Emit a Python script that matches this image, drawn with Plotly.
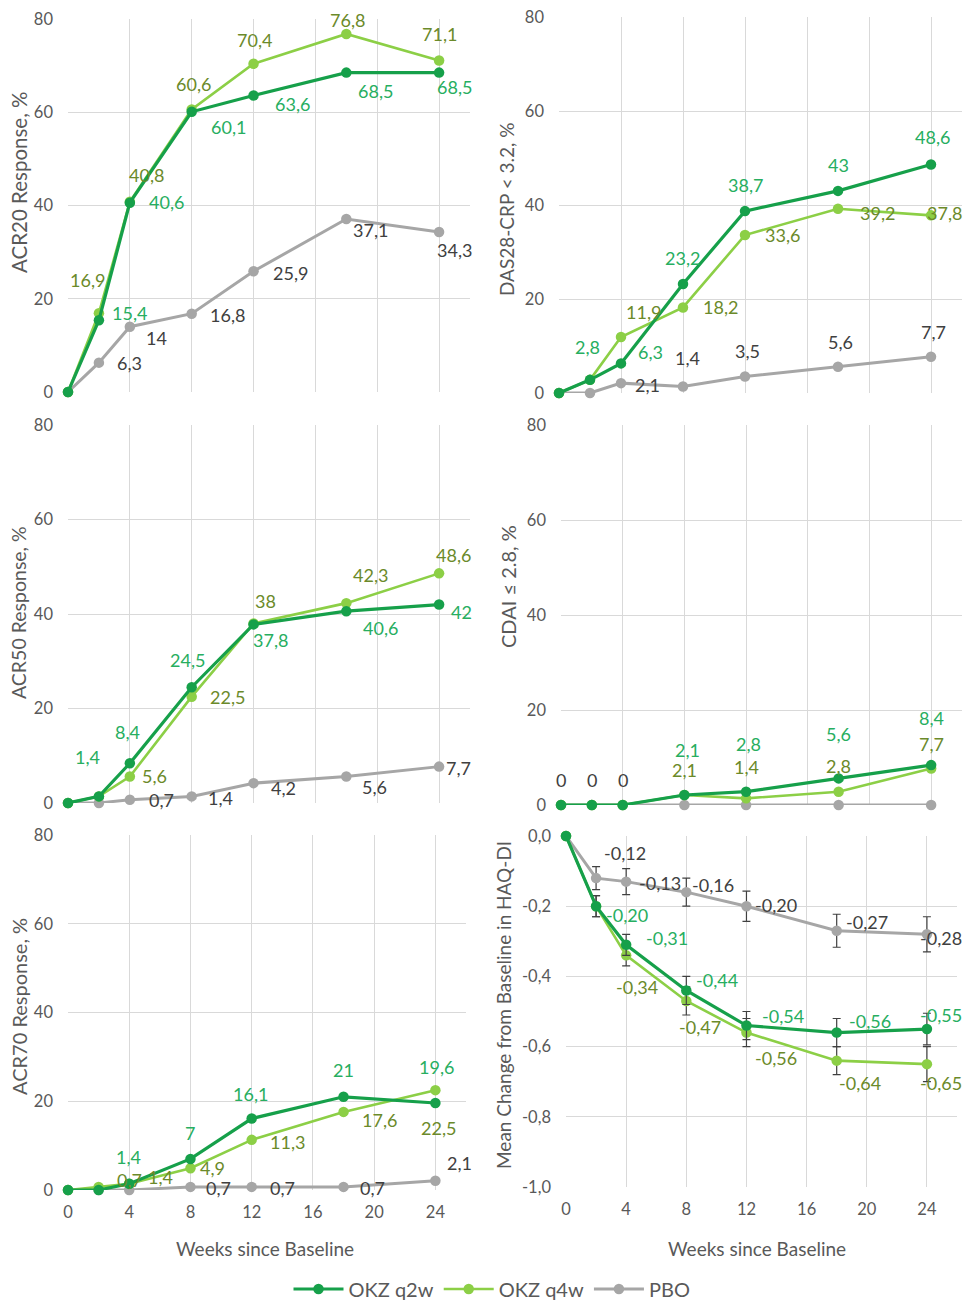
import plotly.graph_objects as go

# ---------------- DATA ----------------
weeks = [0, 2, 4, 8, 12, 18, 24]
series_names = ["OKZ q2w", "OKZ q4w", "PBO"]

acr20_q2w = [0, 15.4, 40.6, 60.1, 63.6, 68.5, 68.5]
acr20_q4w = [0, 16.9, 40.8, 60.6, 70.4, 76.8, 71.1]
acr20_pbo = [0, 6.3, 14, 16.8, 25.9, 37.1, 34.3]

das28_q2w = [0, 2.8, 6.3, 23.2, 38.7, 43, 48.6]
das28_q4w = [0, 2.8, 11.9, 18.2, 33.6, 39.2, 37.8]
das28_pbo = [0, 0, 2.1, 1.4, 3.5, 5.6, 7.7]

acr50_q2w = [0, 1.4, 8.4, 24.5, 37.8, 40.6, 42]
acr50_q4w = [0, 1.4, 5.6, 22.5, 38, 42.3, 48.6]
acr50_pbo = [0, 0, 0.7, 1.4, 4.2, 5.6, 7.7]

cdai_q2w = [0, 0, 0, 2.1, 2.8, 5.6, 8.4]
cdai_q4w = [0, 0, 0, 2.1, 1.4, 2.8, 7.7]
cdai_pbo = [0, 0, 0, 0, 0, 0, 0]

acr70_q2w = [0, 0, 1.4, 7, 16.1, 21, 19.6]
acr70_q4w = [0, 0.7, 1.4, 4.9, 11.3, 17.6, 22.5]
acr70_pbo = [0, 0, 0, 0.7, 0.7, 0.7, 2.1]

haq_q2w = [0, -0.20, -0.31, -0.44, -0.54, -0.56, -0.55]
haq_q4w = [0, -0.20, -0.34, -0.47, -0.56, -0.64, -0.65]
haq_pbo = [0, -0.12, -0.13, -0.16, -0.20, -0.27, -0.28]
haq_q2w_err = [0, 0.03, 0.03, 0.04, 0.04, 0.04, 0.045]
haq_q4w_err = [0, 0.03, 0.03, 0.04, 0.04, 0.04, 0.05]
haq_pbo_err = [0, 0.033, 0.037, 0.04, 0.043, 0.047, 0.05]

pct_ticks = [0, 20, 40, 60, 80]
haq_ticks = [-1.0, -0.8, -0.6, -0.4, -0.2, 0.0]
haq_ticktext = ["-1,0", "-0,8", "-0,6", "-0,4", "-0,2", "0,0"]
week_ticks = [0, 4, 8, 12, 16, 20, 24]

# ---------------- STYLE ----------------
FONT = "Lato"
line_colors = ["#16A04A", "#8CCF46", "#A6A6A6"]
label_colors = ["#27AE60", "#6B8A2A", "#404040"]
line_widths = [3.2, 2.6, 3]
GRID = "#D9D9D9"
TICKC = "#595959"
W, H = 964, 1301
TICK_SIZE = 16.5
LABEL_SIZE = 18
TITLE_SIZE = 19
LEGEND_SIZE = 20


def px_x(a, b):
    return [a / W, b / W]


def px_y(top, bottom):
    return [1 - bottom / H, 1 - top / H]


# label offsets in pixels (dx right, dy down); None = no label
panels = [
    dict(key="1", xd=(68, 470), yd=(19, 392), bottom=False, haq=False,
         title="ACR20 Response, %", tx=19, ty=182, tsize=20.5,
         data=[acr20_q2w, acr20_q4w, acr20_pbo],
         off=[[None, (31, -7), (37, -1), (37, 15), (39, 9), (29, 18), (15, 14)],
              [None, (-11, -33), (17, -27), (2, -25), (1, -24), (1, -14), (0, -26)],
              [None, (31, 0), (27, 11), (36, 1), (37, 2), (24, 11), (15, 18)]]),
    dict(key="2", xd=(559, 962), yd=(17, 393), bottom=False, haq=False,
         title="DAS28-CRP < 3.2, %", tx=507, ty=209, tsize=19,
         data=[das28_q2w, das28_q4w, das28_pbo],
         off=[[None, (-3, -33), (29, -11), (-1, -26), (0, -26), (0, -26), (1, -28)],
              [None, None, (22, -25), (37, 0), (37, 0), (39, 4), (13, -2)],
              [None, None, (26, 2), (4, -28), (2, -26), (2, -25), (2, -25)]]),
    dict(key="3", xd=(68, 470), yd=(425, 803), bottom=False, haq=False,
         title="ACR50 Response, %", tx=19, ty=613, tsize=19.5,
         data=[acr50_q2w, acr50_q4w, acr50_pbo],
         off=[[None, (-11, -39), (-2, -31), (-4, -27), (17, 16), (34, 17), (22, 7)],
              [None, None, (25, -1), (36, 0), (12, -22), (24, -28), (14, -18)],
              [None, None, (32, 0), (29, 2), (30, 5), (28, 10), (19, 1)]]),
    dict(key="4", xd=(561, 962), yd=(425, 805), bottom=False, haq=False,
         title="CDAI ≤ 2.8, %", tx=508, ty=587, tsize=20,
         data=[cdai_q2w, cdai_q4w, cdai_pbo],
         off=[[None, None, None, (3, -45), (2, -48), (0, -44), (0, -47)],
              [None, None, None, (0, -25), (0, -31), (0, -26), (0, -24)],
              [(0, -25), (0, -25), (0, -25), None, None, None, None]]),
    dict(key="5", xd=(68, 466), yd=(835, 1190), bottom=True, haq=False,
         title="ACR70 Response, %", tx=19, ty=1007, tsize=20,
         data=[acr70_q2w, acr70_q4w, acr70_pbo],
         off=[[None, None, (-1, -27), (0, -26), (-1, -25), (0, -27), (1, -36)],
              [None, (31, -7), (31, -7), (22, 0), (36, 2), (36, 8), (3, 38)],
              [None, None, None, (28, 1), (31, 1), (29, 1), (24, -18)]]),
    dict(key="6", xd=(566, 957), yd=(836, 1187), bottom=True, haq=True,
         title="Mean Change from Baseline in HAQ-DI", tx=504, ty=1005, tsize=19,
         data=[haq_q2w, haq_q4w, haq_pbo],
         err=[haq_q2w_err, haq_q4w_err, haq_pbo_err],
         off=[[None, (31, 9), (41, -7), (31, -10), (37, -10), (33, -12), (14, -14)],
              [None, None, (11, 32), (14, 26), (30, 25), (23, 22), (14, 19)],
              [None, (29, -25), (34, 1), (27, -7), (30, -1), (30, -9), (14, 4)]]),
]


def fmt(v, haq):
    if haq:
        return f"{v:.2f}".replace(".", ",")
    if float(v).is_integer():
        return str(int(v))
    return f"{v:g}".replace(".", ",")


fig = go.Figure()
layout = dict(
    width=W, height=H, margin=dict(l=0, r=0, t=0, b=0, autoexpand=False),
    paper_bgcolor="white", plot_bgcolor="white",
    font=dict(family=FONT, size=TICK_SIZE, color=TICKC),
    showlegend=True,
    legend=dict(orientation="h", x=492 / W, y=1 - 1289 / H, xanchor="center", yanchor="middle",
                font=dict(size=LEGEND_SIZE, color=TICKC, family=FONT), itemwidth=50,
                traceorder="normal"),
)
annotations = []

for p in panels:
    k = p["key"]
    xa = "xaxis" if k == "1" else "xaxis" + k
    ya = "yaxis" if k == "1" else "yaxis" + k
    xr = "x" if k == "1" else "x" + k
    yr = "y" if k == "1" else "y" + k
    layout[xa] = dict(domain=px_x(*p["xd"]), anchor=yr, range=[0, 26],
                      tickvals=week_ticks, showticklabels=p["bottom"],
                      showgrid=True, gridcolor=GRID, gridwidth=1, zeroline=False,
                      showline=False, ticks="", ticklabelstandoff=10, automargin=False,
                      tickfont=dict(size=TICK_SIZE, color=TICKC, family=FONT))
    if p["haq"]:
        layout[ya] = dict(domain=px_y(*p["yd"]), anchor=xr, range=[-1, 0],
                          tickvals=haq_ticks, ticktext=haq_ticktext)
    else:
        layout[ya] = dict(domain=px_y(*p["yd"]), anchor=xr, range=[0, 80],
                          tickvals=pct_ticks)
    layout[ya].update(showgrid=True, gridcolor=GRID, gridwidth=1, zeroline=False,
                      showline=False, ticks="", ticklabelstandoff=14, automargin=False,
                      tickfont=dict(size=TICK_SIZE, color=TICKC, family=FONT))

    for i in [2, 1, 0]:
        tr = dict(x=weeks, y=p["data"][i], xaxis=xr, yaxis=yr, mode="lines+markers",
                  name=series_names[i], legendrank=i + 1,
                  line=dict(color=line_colors[i], width=line_widths[i]),
                  marker=dict(color=line_colors[i], size=10.5),
                  cliponaxis=False, showlegend=(k == "1"), hoverinfo="skip")
        if "err" in p:
            tr["error_y"] = dict(type="data", array=p["err"][i], visible=True,
                                 color="#404040", thickness=1.2, width=4)
        fig.add_trace(go.Scatter(**tr))
        for j, off in enumerate(p["off"][i]):
            if off is None:
                continue
            annotations.append(dict(
                x=weeks[j], y=p["data"][i][j], xref=xr, yref=yr,
                text=fmt(p["data"][i][j], p["haq"]), showarrow=False,
                xanchor="center", yanchor="middle",
                xshift=off[0], yshift=-off[1],
                font=dict(size=LABEL_SIZE, color=label_colors[i], family=FONT)))

    annotations.append(dict(x=p["tx"] / W, y=1 - p["ty"] / H, xref="paper", yref="paper",
                            text=p["title"], textangle=-90, showarrow=False,
                            xanchor="center", yanchor="middle",
                            font=dict(size=p["tsize"], color=TICKC, family=FONT)))

for cx in (265, 757):
    annotations.append(dict(x=cx / W, y=1 - 1248 / H, xref="paper", yref="paper",
                            text="Weeks since Baseline", showarrow=False,
                            xanchor="center", yanchor="middle",
                            font=dict(size=TITLE_SIZE, color=TICKC, family=FONT)))

layout["annotations"] = annotations
fig.update_layout(**layout)
fig.write_html("out.html", config={"displayModeBar": False},
               post_script="document.body.style.margin='0px';document.body.style.overflow='hidden';")
